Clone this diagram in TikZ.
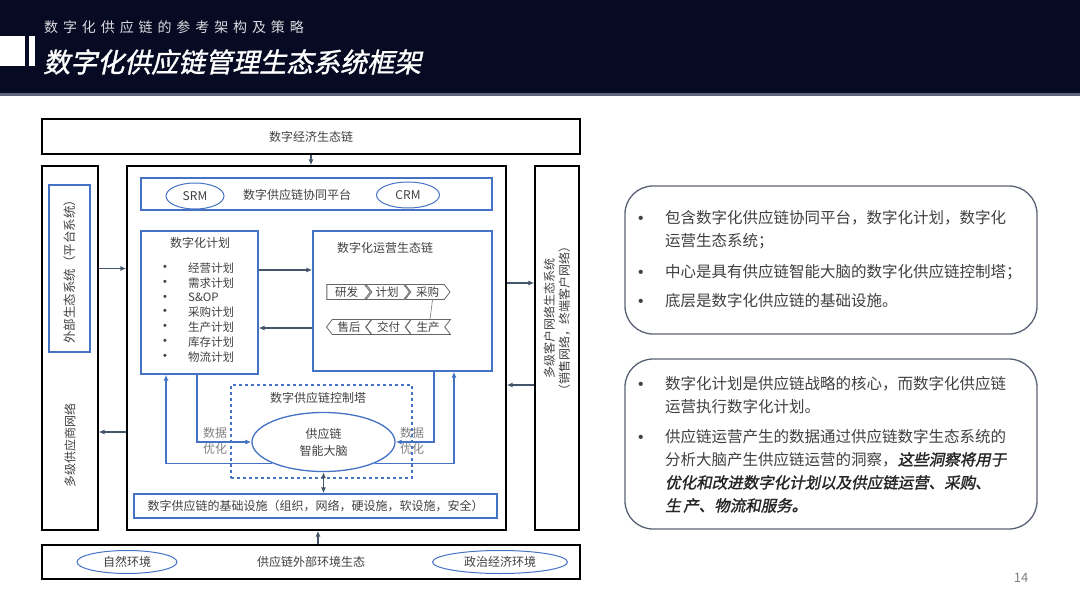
\documentclass[tikz,border=0pt]{standalone}
\usepackage{fontspec}
\setmainfont{Noto Sans CJK SC}
\newfontfamily\titlefont[FakeSlant=0.22,FakeBold=1.2]{Noto Sans CJK SC}
\newfontfamily\subfont[LetterSpace=35]{Noto Sans CJK SC}
\newfontfamily\emfont[FakeSlant=0.2,FakeBold=1.6]{Noto Sans CJK SC}
\newfontfamily\bulletfont{Liberation Sans}
\usetikzlibrary{arrows.meta,calc,shapes.geometric,shapes.symbols}
\definecolor{navy}{HTML}{060A22}
\definecolor{rulegray}{HTML}{5B6478}
\definecolor{frameblue}{HTML}{4472C4}
\definecolor{slate}{HTML}{44546A}
\definecolor{ink}{HTML}{404040}
\definecolor{soft}{HTML}{808080}
\definecolor{panelgray}{HTML}{5A6275}
\newcommand\dfont{\fontsize{12}{15}\selectfont}
\newcommand\nfont{\fontsize{15.5}{23}\selectfont}
\newcommand\hang{\hspace*{28pt}}
\newcommand\bul{\makebox[28pt][l]{\bulletfont\hspace*{1pt}•}}
\tikzset{>=Latex,
  every node/.style={text=ink,inner sep=0pt,font=\dfont},
  box/.style={draw=black,line width=1.3pt},
  bluebox/.style={draw=frameblue,line width=1.3pt},
  towerbox/.style={draw=frameblue,dashed,line width=1.3pt},
  oval/.style={ellipse,draw=frameblue,line width=1pt},
  chev/.style={signal,draw=ink!80,line width=.8pt,minimum width=45,minimum height=15,
    signal pointer angle=105,font=\fontsize{11.5}{13}\selectfont},
  conn/.style={->,draw=slate,line width=1.2pt,>={Latex[length=6pt,width=5pt]}},
  flow/.style={->,draw=frameblue,line width=1.3pt,>={Latex[length=6pt,width=5pt]}},
  panel/.style={draw=panelgray,line width=1.3pt,rounded corners=28pt},
  notetext/.style={anchor=north west,align=left,font=\nfont}}

\begin{document}
\begin{tikzpicture}[x=1pt,y=-1pt]
\useasboundingbox (0,0) rectangle (1080,608);
% header
\fill[navy] (0,0) rectangle (1080,93);
\fill[rulegray] (0,93) rectangle (1080,96);
\fill[white] (0,36) rectangle (25,66);
\fill[white] (29,36) rectangle (35,66);
\node[anchor=west,text=white!85!navy,font=\subfont\fontsize{14}{16}\selectfont] (subtitle) at (44,27) {数字化供应链的参考架构及策略};
\node[anchor=west,text=white,font=\titlefont\fontsize{27}{30}\selectfont] (title) at (43,62) {数字化供应链管理生态系统框架};

% outer frames
\node[box,minimum width=538,minimum height=35] (digeco) at (311,136.5) {数字经济生态链};
\node[box,minimum width=56,minimum height=364] (supnet) at (70,348) {};
\node[box,minimum width=379,minimum height=364] (ecomain) at (316.5,348) {};
\node[box,minimum width=44,minimum height=364] (custnet) at (557,348) {};
\node[box,minimum width=538,minimum height=34] (envbox) at (311,562) {供应链外部环境生态};
\node[oval,minimum width=100,minimum height=23] (natenv) at (127,562) {自然环境};
\node[oval,minimum width=135,minimum height=23] (polenv) at (500,562) {政治经济环境};
\node[bluebox,rotate=90,minimum width=167,minimum height=41,font=\fontsize{12.5}{15}\selectfont] (ext) at (69.5,268.5) {外部生态系统（平台系统）};
\node[rotate=90] (suplbl) at (70,445) {多级供应商网络};
\node[rotate=90,align=center,font=\fontsize{12}{15}\selectfont] (custlbl) at (557,318) {多级客户网络生态系统\\（销售网络，终端客户网络）};

% platform
\node[bluebox,minimum width=351,minimum height=32] (platform) at (316.5,194) {};
\node (platlbl) at (297,195) {数字供应链协同平台};
\node[oval,minimum width=58,minimum height=26] (srm) at (195,196) {SRM};
\node[oval,minimum width=63,minimum height=26] (crm) at (408,195) {CRM};

% planning
\node[bluebox,minimum width=117,minimum height=143] (plan) at (199.5,302.5) {};
\node (plantitle) at (200,243) {数字化计划};
\foreach \lab [count=\i] in {经营计划,需求计划,S\&OP,采购计划,生产计划,库存计划,物流计划} {
  \node[font=\bulletfont\fontsize{11}{12}\selectfont] (dot\i) at (165,253.2+14.8*\i) {•};
  \node[anchor=west,font=\fontsize{11.5}{14}\selectfont] (itm\i) at (188,253.2+14.8*\i) {\lab};}

% operations
\node[bluebox,minimum width=179,minimum height=140] (ops) at (402.5,301) {};
\node (opstitle) at (385,248) {数字化运营生态链};
\node[chev,signal to=east] (rd) at (346.5,292) {研发};
\node[chev,signal to=east,signal from=west] (jh) at (387,292) {计划};
\node[chev,signal to=east,signal from=west] (cg) at (427.5,292) {采购};
\node[chev,signal to=west,signal from=east] (sh) at (349,327) {售后};
\node[chev,signal to=west,signal from=east] (jf) at (388.5,327) {交付};
\node[chev,signal to=west,signal from=east] (sc) at (428,327) {生产};
\draw[ink!70,line width=.6pt] ([xshift=5pt]cg.south) -- ([xshift=2pt]sc.north);

% control tower
\node[towerbox,minimum width=181,minimum height=93] (tower) at (321.5,431.5) {};
\node (towertitle) at (318,398) {数字供应链控制塔};
\node[oval,line width=1.3pt,minimum width=143,minimum height=59,align=center,font=\fontsize{12}{17}\selectfont] (brain) at (323.5,442) {供应链\\智能大脑};
\node[text=soft,align=center,font=\fontsize{12}{16}\selectfont] (dataL) at (215,441) {数据\\优化};
\node[text=soft,align=center,font=\fontsize{12}{16}\selectfont] (dataR) at (412,441) {数据\\优化};
\node[bluebox,minimum width=363,minimum height=24] (infra) at (315.5,506) {数字供应链的基础设施（组织，网络，硬设施，软设施，安全）};

% connectors
\coordinate (rowA) at (0,270);
\coordinate (rowB) at (0,328);
\coordinate (outR) at (0,283);
\coordinate (retR) at (0,385);
\coordinate (retL) at (0,432);
\coordinate (envup) at (318,0);
\coordinate (dl) at (197,0);
\coordinate (ul) at (166,0);
\coordinate (dr) at (434,0);
\coordinate (ur) at (454,0);
\draw[conn] (digeco.south) -- (digeco.south |- ecomain.north);
\draw[conn] (ext -| supnet.east) -- (ext -| ecomain.west);
\draw[conn] (retL -| ecomain.west) -- (retL -| supnet.east);
\draw[conn] (outR -| ecomain.east) -- (outR -| custnet.west);
\draw[conn] (retR -| custnet.west) -- (retR -| ecomain.east);
\draw[conn] (envup |- envbox.north) -- (envup |- ecomain.south);
\draw[conn] (rowA -| plan.east) -- (rowA -| ops.west);
\draw[conn] (rowB -| ops.west) -- (rowB -| plan.east);
\draw[flow] (plan.south -| dl) |- (brain.west);
\draw[flow] (brain.south west) -| (plan.south -| ul);
\draw[flow] (ops.south -| dr) |- (brain.east);
\draw[flow] (brain.south east) -| (ops.south -| ur);
\draw[conn,<->] (brain.south) -- (brain.south |- infra.north);

% notes
\node[panel,minimum width=412,minimum height=148] (note1) at (831,260) {};
\node[panel,minimum width=412,minimum height=170] (note2) at (831,444) {};
\node[notetext] (n1) at (637,210) {\bul 包含数字化供应链协同平台，数字化计划，数字化\\\hang 运营生态系统；};
\node[notetext] (n2) at (637,264) {\bul 中心是具有供应链智能大脑的数字化供应链控制塔；};
\node[notetext] (n3) at (637,293) {\bul 底层是数字化供应链的基础设施。};
\node[notetext] (n4) at (637,376) {\bul 数字化计划是供应链战略的核心，而数字化供应链\\\hang 运营执行数字化计划。};
\node[notetext] (n5) at (637,429) {\bul 供应链运营产生的数据通过供应链数字生态系统的\\\hang 分析大脑产生供应链运营的洞察，{\emfont\color{black!85}这些洞察将用于}\\\hang{\emfont\color{black!85}优化和改进数字化计划以及供应链运营、采购、}\\\hang{\emfont\color{black!85}生\,产、物流和服务。}};
\node[text=soft,font=\fontsize{13}{15}\selectfont] (pageno) at (1021,578) {14};
\end{tikzpicture}
\end{document}
